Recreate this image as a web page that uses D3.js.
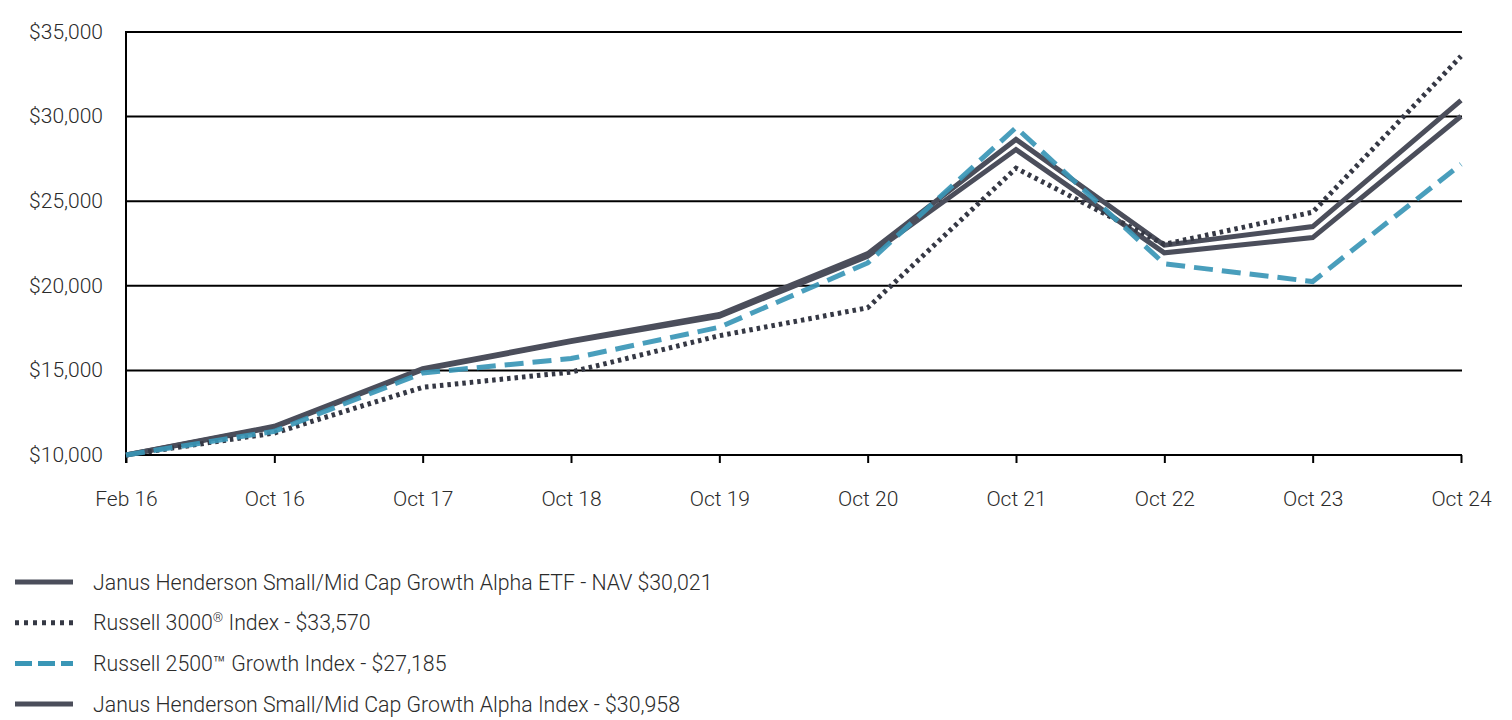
<!DOCTYPE html>
<html><head><meta charset="utf-8">
<script src="https://cdn.jsdelivr.net/npm/d3@7"></script>
<style>
body{margin:0;background:#fff;}
svg text{font-family:Roboto,"Noto Sans",sans-serif;font-weight:300;fill:#2b2b2b;}
</style></head>
<body><svg id="c" width="1512" height="720"></svg>
<script>
const categories = ["Feb 16","Oct 16","Oct 17","Oct 18","Oct 19","Oct 20","Oct 21","Oct 22","Oct 23","Oct 24"];
const etfNav = [10000,11650,15050,16700,18200,21750,28050,21950,22850,30021];
const russell3000 = [10000,11300,14000,14900,17050,18700,26950,22450,24350,33570];
const russell2500g = [10000,11400,14850,15700,17550,21350,29350,21300,20250,27185];
const alphaIndex = [10000,11700,15100,16750,18300,21900,28650,22400,23500,30958];
const yTicks = [10000,15000,20000,25000,30000,35000];
const seriesNames = [
  ["Janus Henderson Small/Mid Cap Growth Alpha ETF - NAV $30,021"],
  ["Russell 3000","\u00AE"," Index - $33,570"],
  ["Russell 2500\u2122 Growth Index - $27,185"],
  ["Janus Henderson Small/Mid Cap Growth Alpha Index - $30,958"]
];

const svg = d3.select("#c");
const x = d3.scalePoint().domain(categories).range([126,1461]);
const y = d3.scaleLinear().domain([10000,35000]).range([455,32]);

// gridlines
svg.append("g").selectAll("line").data(yTicks).join("line")
  .attr("x1",126).attr("x2",1462).attr("y1",d=>y(d)).attr("y2",d=>y(d))
  .attr("stroke","#000").attr("stroke-width",2);

// y axis
const ya = svg.append("g").attr("transform","translate(126,0)")
  .call(d3.axisLeft(y).tickValues(yTicks).tickSize(0).tickPadding(23).tickFormat(d=>"$"+d3.format(",")(d)));
ya.select(".domain").remove();
ya.selectAll("text").style("font-size","21px").attr("dy","0.3em");
svg.append("line").attr("x1",126).attr("x2",126).attr("y1",31).attr("y2",463).attr("stroke","#000").attr("stroke-width",2);

// x axis
const xa = svg.append("g").attr("transform","translate(0,455)")
  .call(d3.axisBottom(x).tickSize(8).tickPadding(28));
xa.select(".domain").remove();
xa.selectAll("line").attr("stroke","#000").attr("stroke-width",2);
xa.selectAll("text").style("font-size","21px");

const line = d3.line().x((d,i)=>x(categories[i])).y(d=>y(d));
const styles = [
  {data:etfNav, color:"#4b4e5b", dash:null, w:5, op:1},
  {data:alphaIndex, color:"#4b4e5b", dash:null, w:5, op:1},
  {data:russell3000, color:"#353844", dash:"3.5,4", w:5, op:1},
  {data:russell2500g, color:"#3a96b6", dash:"19,9", w:5, op:0.92}
];
styles.forEach(s=>{
  svg.append("path").attr("d",line(s.data)).attr("fill","none")
    .attr("stroke",s.color).attr("stroke-width",s.w).attr("stroke-opacity",s.op)
    .attr("stroke-dasharray",s.dash).attr("stroke-linejoin","miter");
});

// legend
const legStyles = [
  {color:"#4b4e5b", dash:null},
  {color:"#353844", dash:"4,5"},
  {color:"#3a96b6", dash:"17,6"},
  {color:"#4b4e5b", dash:null}
];
const lg = svg.append("g");
seriesNames.forEach((parts,i)=>{
  const yy = 582 + i*40.7;
  lg.append("line").attr("x1",15).attr("x2",73).attr("y1",yy).attr("y2",yy)
    .attr("stroke",legStyles[i].color).attr("stroke-width",5).attr("stroke-dasharray",legStyles[i].dash);
  const t = lg.append("text").attr("x",93).attr("y",yy+7.5).style("font-size","21.3px");
  if(parts.length===3){
    t.append("tspan").text(parts[0]);
    t.append("tspan").attr("dy",-8).style("font-size","13px").text(parts[1]);
    t.append("tspan").attr("dy",8).text(parts[2]);
  } else t.text(parts[0]);
});
</script></body></html>
